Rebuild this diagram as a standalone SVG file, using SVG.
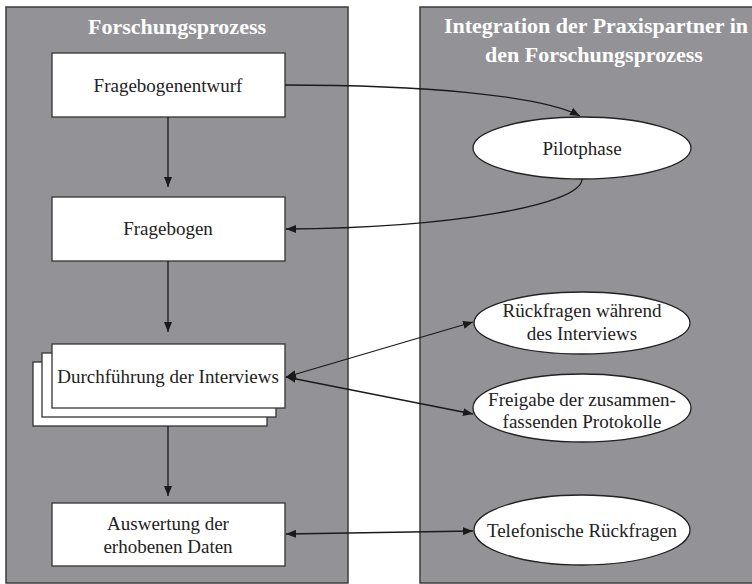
<svg xmlns="http://www.w3.org/2000/svg" width="752" height="584" viewBox="0 0 752 584">
<style>
.panel{fill:#939397;stroke:#3c3c3c;stroke-width:1.5}
.box{fill:#fff;stroke:#333;stroke-width:1.3}
.ell{fill:#fff;stroke:#222;stroke-width:1.3}
.title{font-family:"Liberation Serif",serif;font-weight:bold;font-size:22px;fill:#fff;text-anchor:middle}
.lbl{font-family:"Liberation Serif",serif;font-size:19px;fill:#222;text-anchor:middle}
.con{fill:none;stroke:#1a1a1a;stroke-width:1.3}
</style>
<defs>
<marker id="ah" viewBox="0 0 10 8" refX="10" refY="4" markerWidth="10" markerHeight="8" markerUnits="userSpaceOnUse" orient="auto-start-reverse">
<path d="M0,0 L10,4 L0,8 Z" fill="#1a1a1a"/>
</marker>
</defs>
<g id="panel-left">
<rect class="panel" x="6" y="7" width="342" height="576"/>
<text class="title" x="177" y="34">Forschungsprozess</text>
</g>
<g id="panel-right">
<rect class="panel" x="420" y="7" width="350" height="576"/>
<text class="title" x="596" y="33">Integration der Praxispartner in</text>
<text class="title" x="594" y="62">den Forschungsprozess</text>
</g>
<g id="fragebogenentwurf">
<rect class="box" x="52" y="53" width="233" height="64"/>
<text class="lbl" x="168" y="92">Fragebogenentwurf</text>
</g>
<g id="fragebogen">
<rect class="box" x="52" y="197" width="233" height="64"/>
<text class="lbl" x="168" y="235">Fragebogen</text>
</g>
<g id="durchfuehrung">
<rect class="box" x="33" y="362" width="234" height="64"/>
<rect class="box" x="42" y="353" width="234" height="64"/>
<rect class="box" x="52" y="344" width="233" height="64"/>
<text class="lbl" x="168" y="383">Durchführung der Interviews</text>
</g>
<g id="auswertung">
<rect class="box" x="52" y="503" width="233" height="63"/>
<text class="lbl" x="168" y="530">Auswertung der</text>
<text class="lbl" x="168" y="553">erhobenen Daten</text>
</g>
<g id="pilotphase">
<ellipse class="ell" cx="582" cy="148" rx="109" ry="31"/>
<text class="lbl" x="582" y="155">Pilotphase</text>
</g>
<g id="rueckfragen">
<ellipse class="ell" cx="582" cy="323" rx="108" ry="31"/>
<text class="lbl" x="582" y="317">Rückfragen während</text>
<text class="lbl" x="582" y="340">des Interviews</text>
</g>
<g id="freigabe">
<ellipse class="ell" cx="582" cy="408" rx="109" ry="34"/>
<text class="lbl" x="582" y="406">Freigabe der zusammen-</text>
<text class="lbl" x="582" y="428">fassenden Protokolle</text>
</g>
<g id="telefonisch">
<ellipse class="ell" cx="582" cy="530" rx="108" ry="35"/>
<text class="lbl" x="582" y="537">Telefonische Rückfragen</text>
</g>
<g id="connectors">
<path class="con" d="M285,85 C420,85 540,95 580,116" marker-end="url(#ah)"/>
<path class="con" d="M582,179 C582,205 450,228 286,229" marker-end="url(#ah)"/>
<path class="con" d="M168,117 L168,187" marker-end="url(#ah)"/>
<path class="con" d="M168,261 L168,332" marker-end="url(#ah)"/>
<path class="con" d="M168,426 L168,496" marker-end="url(#ah)"/>
<path class="con" d="M286,377 L473,322" marker-start="url(#ah)" marker-end="url(#ah)"/>
<path class="con" d="M286,377 L473,414" marker-start="url(#ah)" marker-end="url(#ah)"/>
<path class="con" d="M286,534 L473,531" marker-start="url(#ah)" marker-end="url(#ah)"/>
</g>
</svg>
